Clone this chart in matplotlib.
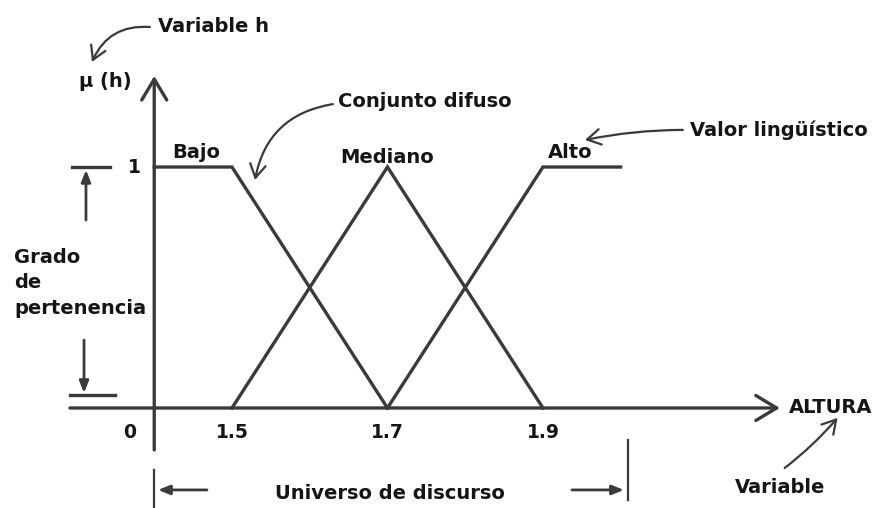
import matplotlib.pyplot as plt

# membership functions (altura in m, grado 0..1)
x_bajo = [1.4, 1.5, 1.7]
mu_bajo = [1, 1, 0]
x_mediano = [1.5, 1.7, 1.9]
mu_mediano = [0, 1, 0]
x_alto = [1.7, 1.9, 2.0]
mu_alto = [0, 1, 1]

tick_vals = [1.5, 1.7, 1.9]
tick_labels = ["1.5", "1.7", "1.9"]
set_names = ["Bajo", "Mediano", "Alto"]

LINE = "#3a3a3a"
TXT = "#151515"

plt.rcParams["font.family"] = ["DejaVu Sans"]
plt.rcParams["font.weight"] = "bold"

fig = plt.figure(figsize=(8.85, 5.08), dpi=100)
ax = fig.add_axes([0, 0, 1, 1])
ax.set_xlim(1.2016, 2.340)
ax.set_ylim(-0.415, 1.693)
ax.axis("off")

lw = 2.4
for xs, ys in [(x_bajo, mu_bajo), (x_mediano, mu_mediano), (x_alto, mu_alto)]:
    ax.plot(xs, ys, color=LINE, lw=lw, solid_joinstyle="miter")

axis_arrow = dict(arrowstyle="->,head_length=0.75,head_width=0.45",
                  color=LINE, lw=lw, mutation_scale=20, shrinkA=0, shrinkB=0)
# y axis
ax.annotate("", xy=(1.4, 1.378), xytext=(1.4, -0.174), arrowprops=axis_arrow)
# x axis
ax.annotate("", xy=(2.2048, 0), xytext=(1.2916, 0), arrowprops=axis_arrow)

fs = 14
for v, lab in zip(tick_vals, tick_labels):
    ax.text(v, -0.1, lab, ha="center", va="center", fontsize=fs - 0.5, color=TXT)
ax.text(1.368, -0.1, "0", ha="center", va="center", fontsize=fs - 0.5, color=TXT)
ax.text(1.374, 1.0, "1", ha="center", va="center", fontsize=fs - 0.5, color=TXT)

ax.text(1.4228, 1.062, set_names[0], ha="left", va="center", fontsize=fs, color=TXT)
ax.text(1.70, 1.041, set_names[1], ha="center", va="center", fontsize=fs, color=TXT)
ax.text(1.9064, 1.062, set_names[2], ha="left", va="center", fontsize=fs, color=TXT)

ax.text(1.3367, 1.353, "μ (h)", ha="center", va="center", fontsize=fs, color=TXT)
ax.text(2.217, 0, "ALTURA", ha="left", va="center", fontsize=fs, color=TXT)

# grado de pertenencia indicator
ax.plot([1.2942, 1.3431], [1.0, 1.0], color=LINE, lw=lw)
ax.plot([1.2916, 1.3495], [0.054, 0.054], color=LINE, lw=lw)
small_arrow = dict(arrowstyle="-|>,head_length=0.5,head_width=0.2",
                   color=LINE, lw=2, mutation_scale=14, shrinkA=0, shrinkB=0)
ax.annotate("", xy=(1.3122, 0.988), xytext=(1.3122, 0.78), arrowprops=small_arrow)
ax.annotate("", xy=(1.3097, 0.062), xytext=(1.3097, 0.282), arrowprops=small_arrow)
ax.text(1.2196, 0.519, "Grado\nde\npertenencia", ha="left", va="center",
        fontsize=fs, color=TXT, linespacing=1.45)

# universo de discurso
ax.plot([1.4, 1.4], [-0.257, -0.415], color=LINE, lw=1.6)
ax.plot([2.0093, 2.0093], [-0.133, -0.382], color=LINE, lw=1.6)
ax.annotate("", xy=(1.4048, -0.340), xytext=(1.4678, -0.340), arrowprops=small_arrow)
ax.annotate("", xy=(2.0042, -0.340), xytext=(1.9373, -0.340), arrowprops=small_arrow)
ax.text(1.7032, -0.353, "Universo de discurso", ha="center", va="center",
        fontsize=fs, color=TXT)

# notes with hand-drawn arrows
note_arrow = dict(arrowstyle="->,head_length=0.6,head_width=0.35",
                  color=LINE, lw=1.6, mutation_scale=16, shrinkA=0, shrinkB=0)
ax.text(1.4048, 1.581, "Variable h", ha="left", va="center", fontsize=fs, color=TXT)
ax.annotate("", xy=(1.3199, 1.436), xytext=(1.3945, 1.581),
            arrowprops=dict(note_arrow, connectionstyle="arc3,rad=0.35"))

ax.text(1.6363, 1.270, "Conjunto difuso", ha="left", va="center", fontsize=fs, color=TXT)
ax.annotate("", xy=(1.5296, 0.946), xytext=(1.6299, 1.261),
            arrowprops=dict(note_arrow, connectionstyle="arc3,rad=0.35"))

ax.text(2.089, 1.154, "Valor lingüístico", ha="left", va="center", fontsize=fs, color=TXT)
ax.annotate("", xy=(1.954, 1.112), xytext=(2.080, 1.154),
            arrowprops=dict(note_arrow, connectionstyle="arc3,rad=0.05"))

ax.text(2.2048, -0.332, "Variable", ha="center", va="center", fontsize=fs, color=TXT)
ax.annotate("", xy=(2.279, -0.041), xytext=(2.211, -0.249),
            arrowprops=dict(note_arrow, connectionstyle="arc3,rad=0.05"))

fig.savefig("out.png", dpi=100, facecolor="white")
